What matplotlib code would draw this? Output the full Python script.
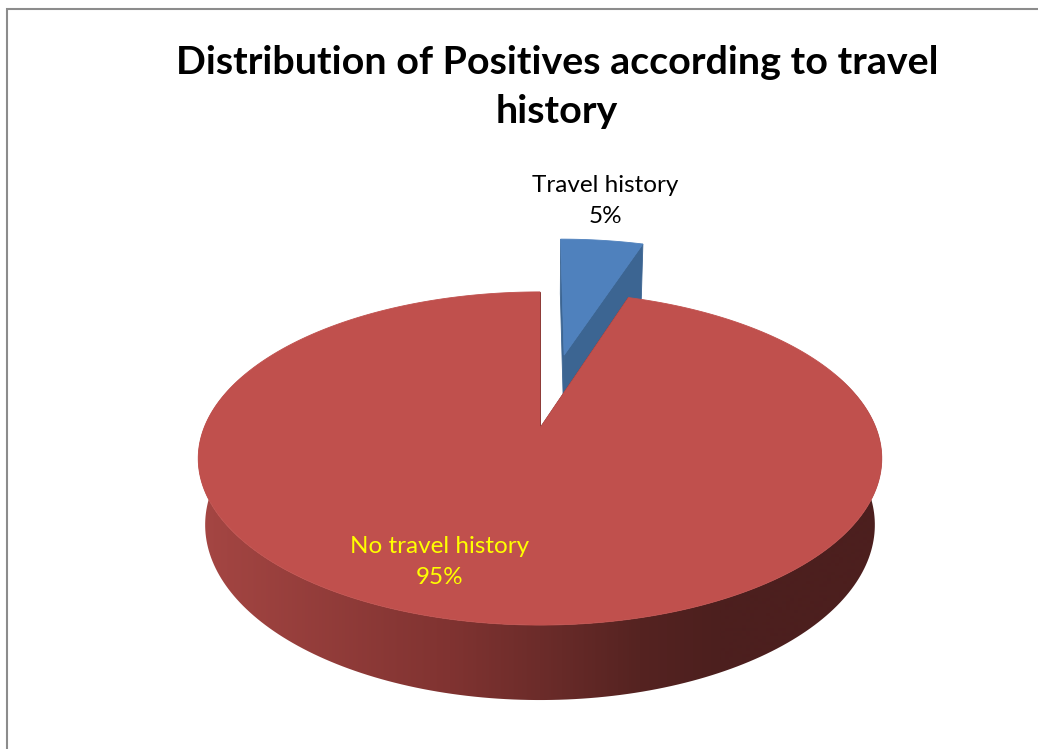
import numpy as np
import matplotlib.pyplot as plt
from matplotlib.patches import Polygon

# slice data
labels = ['Travel history', 'No travel history']
values = [5, 95]
colors = ['#4F81BD', '#C0504D']
side_colors = ['#3C6592', None]
explode = [0.5, 0.0]
label_colors = ['black', '#FFFF00']
title = 'Distribution of Positives according to travel\nhistory'

W, H = 1038, 749
fig = plt.figure(figsize=(W / 100, H / 100), dpi=100)
ax = fig.add_axes([0, 0, 1, 1])
ax.set_xlim(0, W)
ax.set_ylim(H, 0)
ax.axis('off')

# simple perspective camera for the tilted disc, in pixel units
CX, CY = 540, 428
A, B = 336, 161
K = 0.183
DEPTH = 66.7
M = 0.02


def proj(X, Y, Z):
    w = 1 + K * Y + M * Z
    return CX + A * X / w, CY - (B * Y - DEPTH * Z) / w


# shading of the red rim goes from light on the left to dark on the right
grad_x = [200, 450, 540, 640, 720]
grad_c = np.array([(165, 70, 67), (128, 51, 49), (108, 44, 42),
                   (85, 35, 33), (76, 31, 30)]) / 255.0

xs = np.arange(0, W + 1)
grad_img = np.stack([np.interp(xs, grad_x, grad_c[:, i]) for i in range(3)], axis=-1)
grad_img = grad_img[np.newaxis, :, :]


def poly(pts, fc, z, lw=0.6):
    p = Polygon(pts, closed=True, facecolor=fc, edgecolor=fc, linewidth=lw, zorder=z)
    ax.add_patch(p)
    return p


total = float(sum(values))
bounds = np.concatenate([[0], np.cumsum(values)]) / total * 360.0
front = np.radians([70, 290])  # part of the rim that faces the viewer

for i, v in enumerate(values):
    t0, t1 = np.radians(bounds[i]), np.radians(bounds[i + 1])
    mid = 0.5 * (t0 + t1)
    ox, oy = explode[i] * np.sin(mid), explode[i] * np.cos(mid)
    th = np.linspace(t0, t1, max(int(np.degrees(t1 - t0)), 4) + 1)
    z = 1 + i * 10

    # outer rim, front part only, filled with the gradient
    f0, f1 = max(t0, front[0]), min(t1, front[1])
    if f1 > f0:
        fa = np.linspace(f0, f1, 200)
        rim = [proj(ox + np.sin(a), oy + np.cos(a), 0) for a in fa] + \
              [proj(ox + np.sin(a), oy + np.cos(a), 1) for a in fa[::-1]]
        if side_colors[i]:
            poly(rim, side_colors[i], z)
        else:
            clip = poly(rim, 'none', z, lw=0)
            clip.set_edgecolor('none')
            im = ax.imshow(grad_img, extent=(0, W, H, 0), aspect='auto',
                           interpolation='bilinear', zorder=z)
            im.set_clip_path(clip)

    # radial cut faces
    for a in (t0, t1):
        p = [proj(ox, oy, 0), proj(ox + np.sin(a), oy + np.cos(a), 0),
             proj(ox + np.sin(a), oy + np.cos(a), 1), proj(ox, oy, 1)]
        poly(p, side_colors[i] or tuple(grad_c[2]), z + 1)

    # top face
    top = [proj(ox, oy, 0)] + [proj(ox + np.sin(a), oy + np.cos(a), 0) for a in th]
    poly(top, colors[i], z + 2)

font = ['Lato', 'DejaVu Sans']
ax.text(605, 201, f'{labels[0]}\n{values[0]}%', ha='center', va='center',
        fontsize=17.5, color=label_colors[0], family=font, linespacing=1.55, zorder=30)
ax.text(440, 562, f'{labels[1]}\n{values[1]}%', ha='center', va='center',
        fontsize=17.5, color=label_colors[1], family=font, linespacing=1.6, zorder=30)

ax.text(557, 87, title, ha='center', va='center', fontsize=28.4,
        fontweight='bold', family=font, linespacing=1.5, zorder=30)

# chart border
ax.plot([7, 7, W], [H, 9, 9], color='#8c8c8c', lw=1.5, zorder=40,
        solid_joinstyle='miter')

ax.set_xlim(0, W)
ax.set_ylim(H, 0)
fig.savefig('out.png', dpi=100)
